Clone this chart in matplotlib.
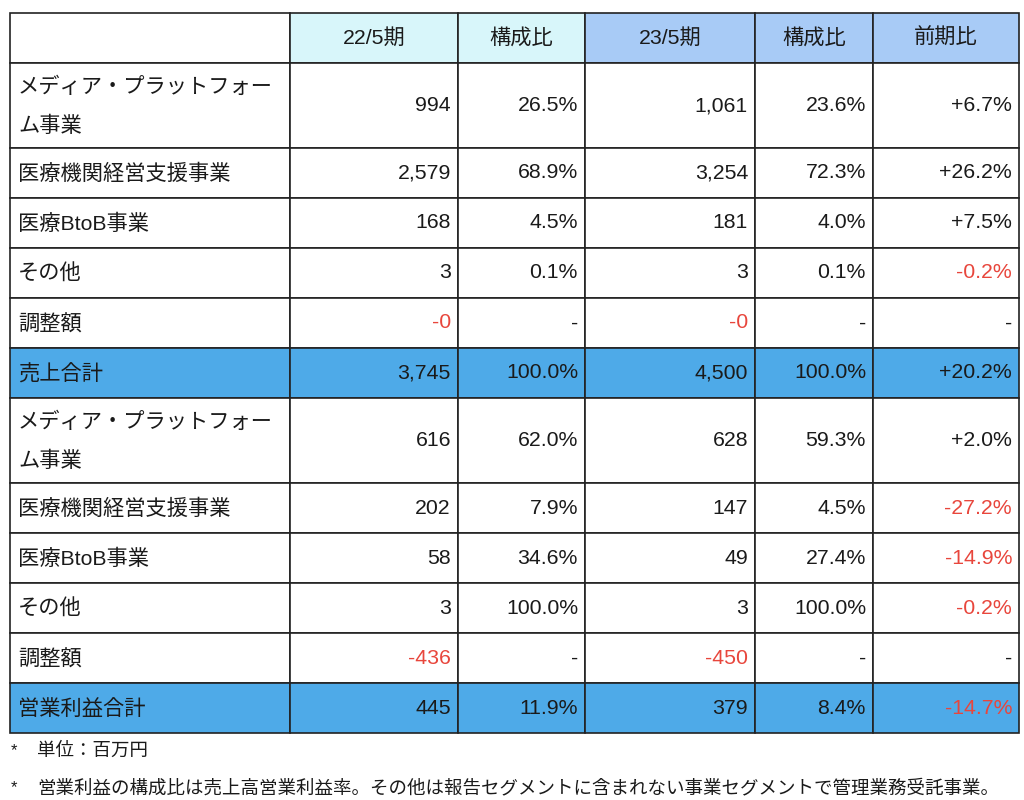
import matplotlib
matplotlib.use('agg')
import matplotlib.pyplot as plt
from matplotlib.patches import Rectangle

plt.rcParams['font.family'] = ['Liberation Sans', 'Noto Sans CJK JP', 'DejaVu Sans']

# data
headers = ['', '22/5期', '構成比', '23/5期', '構成比', '前期比']
segments = ['メディア・プラットフォー\nム事業', '医療機関経営支援事業', '医療BtoB事業', 'その他', '調整額']
sales_22 = ['994', '2,579', '168', '3', '-0']
sales_22_ratio = ['26.5%', '68.9%', '4.5%', '0.1%', '-']
sales_23 = ['1,061', '3,254', '181', '3', '-0']
sales_23_ratio = ['23.6%', '72.3%', '4.0%', '0.1%', '-']
sales_yoy = ['+6.7%', '+26.2%', '+7.5%', '-0.2%', '-']
sales_total = ['売上合計', '3,745', '100.0%', '4,500', '100.0%', '+20.2%']
op_22 = ['616', '202', '58', '3', '-436']
op_22_ratio = ['62.0%', '7.9%', '34.6%', '100.0%', '-']
op_23 = ['628', '147', '49', '3', '-450']
op_23_ratio = ['59.3%', '4.5%', '27.4%', '100.0%', '-']
op_yoy = ['+2.0%', '-27.2%', '-14.9%', '-0.2%', '-']
op_total = ['営業利益合計', '445', '11.9%', '379', '8.4%', '-14.7%']
notes = ['単位：百万円',
         '営業利益の構成比は売上高営業利益率。その他は報告セグメントに含まれない事業セグメントで管理業務受託事業。']

# layout
col_x = [10, 290, 458, 585, 755, 873, 1019]
header_h = 50
row_h = 50
tall_h = 85
header_colors = ['white', '#d8f6fa', '#d8f6fa', '#a8cbf6', '#a8cbf6', '#a8cbf6']
total_color = '#4eaae8'
red = '#e8463c'
fs = 15.3


def build_rows():
    rows = []
    for i, seg in enumerate(segments):
        rows.append(([seg, sales_22[i], sales_22_ratio[i], sales_23[i], sales_23_ratio[i], sales_yoy[i]], False))
    rows.append((sales_total, True))
    for i, seg in enumerate(segments):
        rows.append(([seg, op_22[i], op_22_ratio[i], op_23[i], op_23_ratio[i], op_yoy[i]], False))
    rows.append((op_total, True))
    return rows


fig = plt.figure(figsize=(10.24, 8), dpi=100)
ax = fig.add_axes([0, 0, 1, 1])
ax.set_xlim(0, 1024)
ax.set_ylim(800, 0)
ax.axis('off')

# header
y = 13
for j in range(6):
    ax.add_patch(Rectangle((col_x[j], y), col_x[j+1]-col_x[j], header_h,
                           facecolor=header_colors[j], edgecolor='#222222', lw=1.2))
    ax.text((col_x[j]+col_x[j+1])/2, y + header_h/2, headers[j], ha='center', va='center',
            fontsize=fs, color='#1a1a1a')
y += header_h

for cells, is_total in build_rows():
    h = tall_h if '\n' in cells[0] else row_h
    fc = total_color if is_total else 'white'
    for j in range(6):
        ax.add_patch(Rectangle((col_x[j], y), col_x[j+1]-col_x[j], h,
                               facecolor=fc, edgecolor='#222222', lw=1.2))
        txt = cells[j]
        if j == 0:
            ax.text(col_x[j] + 8, y + h/2 + 1, txt, ha='left', va='center', fontsize=fs,
                    color='#1a1a1a', linespacing=2.15)
        else:
            color = red if txt.startswith('-') and txt != '-' else '#1a1a1a'
            ax.text(col_x[j+1] - 7, y + h/2, txt, ha='right', va='center', fontsize=fs,
                    color=color)
    y += h

# footnotes
for k, note in enumerate(notes):
    ny = 751 + k * 37
    ax.text(11, ny, '*', ha='left', va='center', fontsize=12, color='#1a1a1a')
    ax.text(37, ny, note, ha='left', va='center', fontsize=13.3, color='#1a1a1a')

plt.savefig('out.png', dpi=100, facecolor='white')
